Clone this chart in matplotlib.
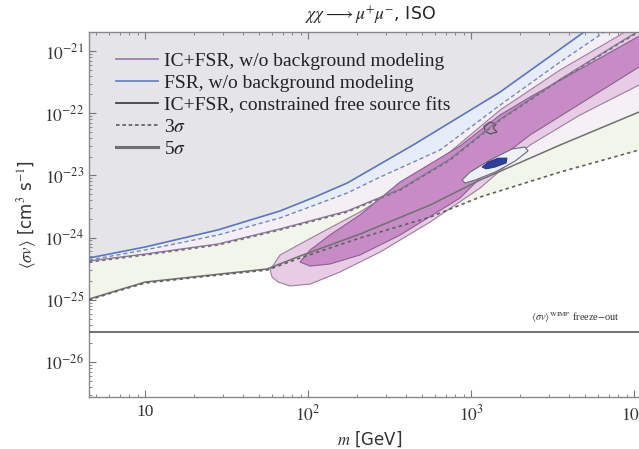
import numpy as np
import matplotlib
matplotlib.use("Agg")
import matplotlib.pyplot as plt
from matplotlib.lines import Line2D
from matplotlib.ticker import LogLocator, NullFormatter

plt.rcParams['font.family'] = ['Liberation Serif', 'DejaVu Serif']
plt.rcParams['mathtext.fontset'] = 'stix'

# ---------------- data (m in GeV, <sigma v> in cm^3 s^-1) ----------------
# FSR w/o background modeling, upper limits
blue5_m  = [4.53, 10, 28.0, 67.3, 110, 174, 441, 1507, 4935, 6186]
blue5_sv = [4.70e-25, 7.06e-25, 1.33e-24, 2.68e-24, 4.49e-24, 7.55e-24, 3.08e-23, 2.19e-22, 2.02e-21, 3.15e-21]
blue3_m  = [4.53, 10, 28.0, 67.3, 174, 277, 645, 1507, 3516, 6186, 8206]
blue3_sv = [4.36e-25, 6.32e-25, 1.10e-24, 2.07e-24, 5.21e-24, 9.42e-24, 2.56e-23, 1.35e-22, 6.65e-22, 1.81e-21, 3.15e-21]

# IC+FSR w/o background modeling, upper limits
purple_m  = [4.53, 10, 28.0, 67.3, 174, 367, 743, 1507, 3516, 8206, 12540]
purple5_sv = [4.20e-25, 5.45e-25, 7.90e-25, 1.38e-24, 2.68e-24, 6.0e-24, 1.83e-23, 8.0e-23, 3.5e-22, 1.38e-21, 2.7e-21]
purple3_sv = [4.05e-25, 5.25e-25, 7.60e-25, 1.33e-24, 2.58e-24, 5.82e-24, 1.77e-23, 7.78e-23, 3.42e-22, 1.34e-21, 2.62e-21]

# IC+FSR constrained free source fits, upper limits
black3_m  = [4.53, 6.83, 10, 21.8, 56.0, 89.3, 208, 561, 1136, 3516, 10733, 12540]
black3_sv = [9.93e-26, 1.39e-25, 1.86e-25, 2.33e-25, 3.01e-25, 4.70e-25, 9.85e-25, 2.14e-24, 4.49e-24, 1.13e-23, 2.56e-23, 2.86e-23]
black5_m  = [4.53, 10, 56.0, 89.3, 208, 561, 1136, 3516, 10733, 12540]
black5_sv = [1.03e-25, 1.93e-25, 3.13e-25, 5.06e-25, 1.14e-24, 3.34e-24, 8.43e-24, 3.08e-23, 1.046e-22, 1.26e-22]

# IC+FSR w/o background modeling, detection contours
ic3_m  = [58.5, 67.3, 89.3, 136, 208, 367, 743, 1507, 3516, 8206, 12540,
          12540, 10733, 4665, 2301, 1136, 561, 277, 157, 103, 77.5, 65.5, 60.1]
ic3_sv = [3.01e-25, 5.25e-25, 7.89e-25, 1.43e-24, 2.58e-24, 6.51e-24, 2.38e-23, 1.125e-22, 4.95e-22, 1.81e-21, 3.79e-21,
          3.68e-22, 2.84e-22, 9.36e-23, 3.08e-23, 6.27e-24, 1.78e-24, 5.87e-25, 2.80e-25, 1.79e-25, 1.67e-25, 1.93e-25, 2.33e-25]
ic5_m  = [89.3, 103, 136, 208, 367, 856, 1507, 2301, 6186, 12540,
          12540, 10733, 2301, 1507, 856, 367, 208, 136, 103]
ic5_sv = [4.05e-25, 6.32e-25, 1.10e-24, 2.31e-24, 7.83e-24, 2.97e-23, 9.36e-23, 1.82e-22, 7.72e-22, 2.18e-21,
          6.65e-22, 5.53e-22, 4.46e-23, 1.90e-23, 4.33e-24, 1.10e-24, 5.25e-25, 3.76e-25, 3.49e-25]

# FSR w/o background modeling, detection contours
fsr3_m  = [881, 986, 1308, 1784, 2145, 2237, 1862, 1404, 1058, 919]
fsr3_sv = [8.43e-24, 1.13e-23, 1.77e-23, 2.66e-23, 2.86e-23, 2.47e-23, 1.70e-23, 1.13e-23, 8.43e-24, 7.55e-24]
fsr5_m  = [1168, 1272, 1464, 1663, 1640, 1404, 1236]
fsr5_sv = [1.36e-23, 1.64e-23, 1.90e-23, 1.90e-23, 1.58e-23, 1.36e-23, 1.27e-23]

# constrained fit contour (small)
cf_m  = [1202, 1308, 1424, 1365, 1443, 1308, 1219]
cf_sv = [6.22e-23, 7.22e-23, 6.70e-23, 5.78e-23, 4.99e-23, 4.63e-23, 5.17e-23]

freeze_out = 3e-26
freeze_label_m = 8200
xlim = (4.53, 1.27e4)
ylim = (2.74e-27, 2.02e-21)

# ---------------- figure ----------------
fig = plt.figure(figsize=(6.39, 4.49), dpi=100)
ax = fig.add_axes([89/639, 1-397/449, 562/639, 365/449])
ax.set_xscale('log'); ax.set_yscale('log')
ax.set_xlim(*xlim); ax.set_ylim(*ylim)

def logi(xs, xp, fp):
    return 10**np.interp(np.log10(xs), np.log10(xp), np.log10(fp))

grid = np.logspace(np.log10(xlim[0]), np.log10(xlim[1]), 400)
b5 = logi(grid, blue5_m, blue5_sv)
b3 = logi(grid, blue3_m, blue3_sv)
p5 = logi(grid, purple_m, purple5_sv)
k3 = logi(grid, black3_m, black3_sv)
k5 = logi(grid, black5_m, black5_sv)

ax.fill_between(grid, b5, 1e-19, color='#e4e4e9', lw=0, zorder=1)
ax.fill_between(grid, b3, b5, color='#e7edf8', lw=0, zorder=1)
ax.fill_between(grid, p5, b3, where=p5 < b3, color='#f3eff5', lw=0, zorder=1)
ax.fill_between(grid, k3, p5, color='#f2f5ea', lw=0, zorder=1)
ax.fill_between(grid, k5, p5, where=grid > 300, color='#f5f0f4', lw=0, zorder=1)

ax.fill(ic3_m, ic3_sv, facecolor='#e8cbe5', edgecolor='#9a7f9c', lw=0.8, zorder=2)
ax.fill(ic5_m, ic5_sv, facecolor='#c78bc5', edgecolor='#8a6090', lw=0.8, zorder=3)
ax.fill(fsr3_m, fsr3_sv, facecolor='#eef0f8', edgecolor='#6a6a80', lw=0.8, zorder=4)
ax.fill(fsr5_m, fsr5_sv, facecolor='#2c3f9c', edgecolor='#22307a', lw=0.6, zorder=5)
ax.fill(cf_m, cf_sv, facecolor='none', edgecolor='#555555', lw=0.9, zorder=5)

ax.plot(blue5_m, blue5_sv, color='#5d74c0', lw=1.2, zorder=6)
ax.plot(blue3_m, blue3_sv, color='#7d88a8', lw=1.0, ls=(0, (3, 2)), zorder=6)
ax.plot(purple_m, purple5_sv, color='#8a7a92', lw=1.0, zorder=6)
ax.plot(purple_m, purple3_sv, color='#7a6a85', lw=1.2, ls=(0, (2, 2)), zorder=6)
ax.plot(black5_m, black5_sv, color='#707070', lw=1.1, zorder=6)
ax.plot(black3_m, black3_sv, color='#606060', lw=1.2, ls=(0, (2, 2)), zorder=6)

ax.axhline(freeze_out, color='#666666', lw=1.3, zorder=6)
ax.text(freeze_label_m, freeze_out*1.3, r'$\langle\sigma v\rangle^{\rm WIMP}$ freeze$-$out',
        fontsize=7.5, ha='right', va='bottom', color='#333333', zorder=7)

# ticks
ax.xaxis.set_minor_locator(LogLocator(base=10, subs=np.arange(2, 10), numticks=20))
ax.yaxis.set_minor_locator(LogLocator(base=10, subs=np.arange(2, 10), numticks=20))
ax.xaxis.set_minor_formatter(NullFormatter())
ax.yaxis.set_minor_formatter(NullFormatter())
ax.set_xticks([10, 100, 1000, 10000])
ax.set_xticklabels(['10', r'$10^2$', r'$10^3$', r'$10^4$'])
ax.set_yticks([1e-21, 1e-22, 1e-23, 1e-24, 1e-25, 1e-26])
ax.set_yticklabels([r'$10^{-21}$', r'$10^{-22}$', r'$10^{-23}$', r'$10^{-24}$', r'$10^{-25}$', r'$10^{-26}$'])
ax.tick_params(which='both', direction='in', top=True, right=True, colors='#777777',
               labelcolor='#333333', labelsize=12.5)
ax.tick_params(which='major', length=5, width=0.8)
ax.tick_params(which='minor', length=2.5, width=0.6)
ax.tick_params(axis='x', pad=5)
for s in ax.spines.values():
    s.set_color('#888888'); s.set_linewidth(1.0)

ax.set_xlabel(r'$m$ [GeV]', fontsize=12, family='DejaVu Sans', color='#333333', labelpad=4)
ax.set_ylabel(r'$\langle\sigma v\rangle$ [cm$^3$ s$^{-1}$]', fontsize=12, family='DejaVu Sans',
              color='#333333', labelpad=4)
ax.set_title(r'$\chi\chi \longrightarrow \mu^{+}\mu^{-}$, ISO', fontsize=12.5, family='DejaVu Sans',
             color='#222222', pad=8)

handles = [Line2D([], [], color='#9a80b2', lw=1.3),
           Line2D([], [], color='#6a84c6', lw=1.3),
           Line2D([], [], color='#444444', lw=1.3),
           Line2D([], [], color='#666666', lw=1.3, ls=(0, (2, 1.5))),
           Line2D([], [], color='#707070', lw=2.2)]
labels = ['IC+FSR, w/o background modeling', 'FSR, w/o background modeling',
          'IC+FSR, constrained free source fits', r'3$\sigma$', r'5$\sigma$']
leg = ax.legend(handles, labels, loc='upper left', bbox_to_anchor=(0.034, 0.965), frameon=False,
                fontsize=14, handlelength=2.15, handletextpad=0.35, labelspacing=0.22,
                borderaxespad=0)
for t in leg.get_texts():
    t.set_color('#222222')

fig.savefig('out.png', dpi=100)
